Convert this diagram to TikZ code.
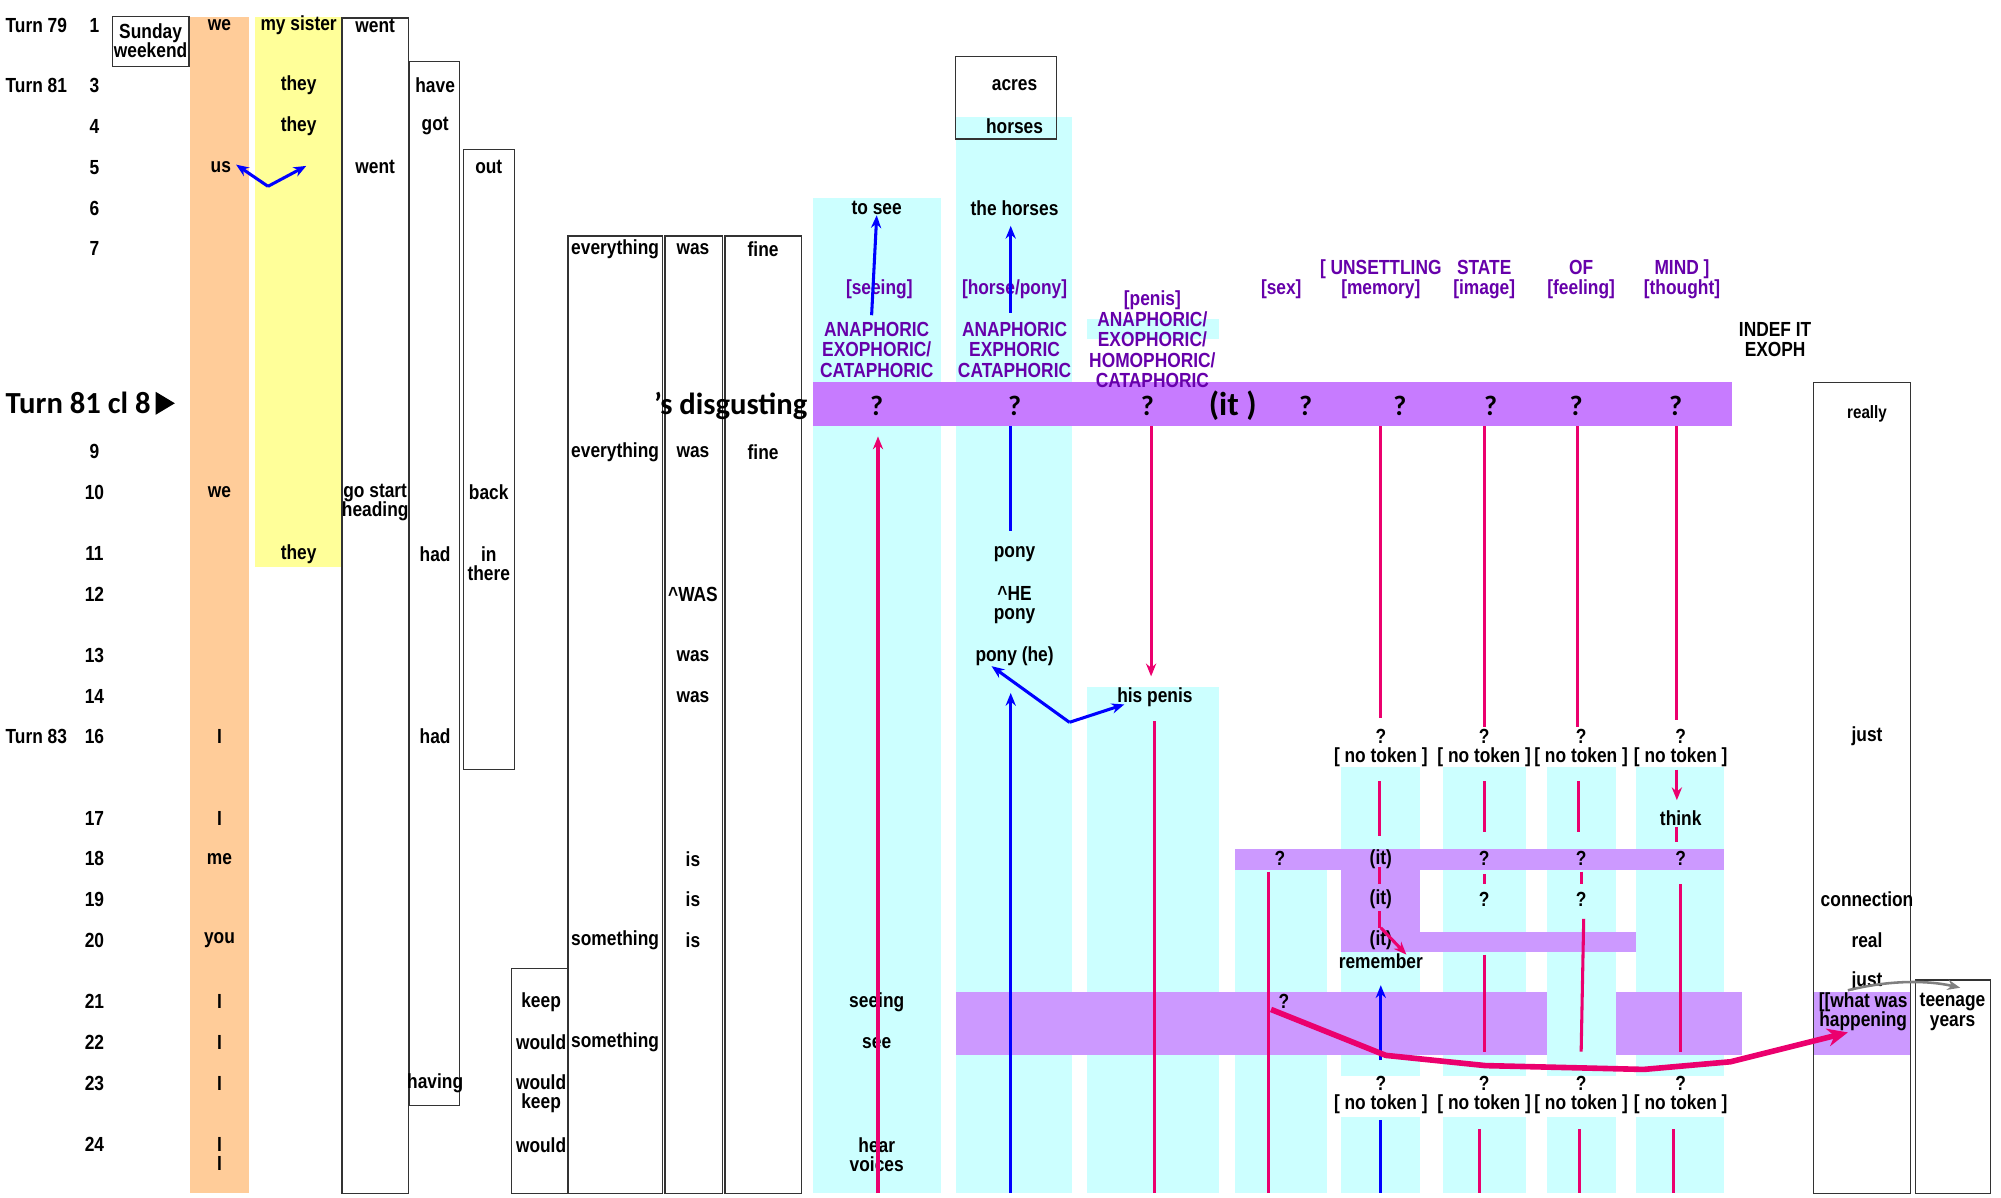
\documentclass[tikz,border=0pt]{standalone}
\usepackage{fontspec}
\setmainfont{Liberation Sans}[FakeStretch=0.85]
\newfontfamily\calib{Carlito}
\usetikzlibrary{arrows.meta}
\definecolor{orng}{HTML}{FFCC99}
\definecolor{yell}{HTML}{FFFF99}
\definecolor{cyn}{HTML}{CCFFFF}
\definecolor{pur}{HTML}{C77BFF}
\definecolor{lpur}{HTML}{CC99FF}
\definecolor{pnk}{RGB}{235,0,110}
\definecolor{hpur}{RGB}{102,0,170}
\definecolor{blu}{HTML}{0000FF}
\begin{document}
\begin{tikzpicture}[x=0.5pt,y=-0.5pt,
  t/.style={font=\fontsize{8}{8.5}\selectfont\bfseries, inner sep=0pt, align=center},
  h/.style={t, text=hpur},
  big/.style={font=\fontsize{11}{12}\selectfont\calib\bfseries, inner sep=0pt},
  box/.style={draw=black!80, line width=0.5pt},
  bl/.style={draw=blu, line width=1.2pt, -{Stealth[length=5pt,width=4pt]}},
  bln/.style={draw=blu, line width=1.2pt},
  pk/.style={draw=pnk, line width=1.2pt},
  pka/.style={pk, -{Stealth[length=5pt,width=4pt]}}]
\useasboundingbox (0,0) rectangle (1568,938);
% ---- colour fills
\fill[orng] (149,13) rectangle (195,935);
\fill[yell] (200,13) rectangle (267,444);
\fill[cyn] (637,155) rectangle (737,935);
\fill[cyn] (749,92) rectangle (840,935);
\fill[cyn] (852,538) rectangle (955,935);
\fill[cyn] (852,250) rectangle (955,266);
\fill[cyn] (968,682) rectangle (1040,935);
\foreach \a/\b in {1051/1113,1131/1196,1212/1266,1282/1351}{
  \fill[cyn] (\a,601) rectangle (\b,843);
  \fill[cyn] (\a,875) rectangle (\b,935);}
\fill[pur] (637,299) rectangle (1357,334);
\fill[lpur] (968,665) rectangle (1351,682);
\fill[lpur] (1051,682) rectangle (1113,746);
\fill[lpur] (1113,730) rectangle (1282,746);
\fill[lpur] (749,777) rectangle (1365,827);
\fill[cyn] (1212,777) rectangle (1266,827);
\fill[lpur] (1421,777) rectangle (1497,827);
% ---- boxes
\draw[box] (88,13) rectangle (148,52);
\draw[box] (268,14) rectangle (320,935);
\draw[box] (321,48) rectangle (360,866);
\draw[box] (363,117) rectangle (403,603);
\draw[box] (401,759) rectangle (445,935);
\draw[box] (445,185) rectangle (519,935);
\draw[box] (521,185) rectangle (566,935);
\draw[box] (568,185) rectangle (628,935);
\draw[box] (749,44) rectangle (828,109);
\draw[box] (1421,300) rectangle (1497,935);
\draw[box] (1501,768) rectangle (1560,935);
% ---- left labels
\node[t,anchor=west] (tu79) at (4,20) {Turn 79};
\node[t,anchor=west] (tu81) at (4,67) {Turn 81};
\node[t,anchor=west] (tu83) at (4,577) {Turn 83};
\foreach \n/\y in {1/20,3/67,4/99,5/131,6/163,7/195,9/354,10/386,11/434,12/466,13/514,14/546,16/577,17/641,18/673,19/705,20/737,21/785,22/817,23/849,24/897}
  \node[t] (r\n) at (74,\y) {\n};
\node[big,anchor=west,font=\fontsize{12}{13}\selectfont\calib\bfseries] (cl8) at (4,316) {Turn 81 cl 8};
\fill (122,307) -- (137,316) -- (122,325) -- cycle;
% ---- column texts
\node[t] (sw) at (118,32) {Sunday\\[-1pt]weekend};
\node[t] (c1a) at (172,20) {we};
\node[t] (c1b) at (173,131) {us};
\node[t] (c1c) at (172,386) {we};
\foreach \y/\w in {577/I,641/I,673/me,737/you,785/I,817/I,849/I,897/I,912/I}
  \node[t] (o\y) at (172,\y) {\w};
\node[t] (y1) at (234,20) {my sister};
\node[t] (y2) at (234,67) {they};
\node[t] (y3) at (234,99) {they};
\node[t] (y4) at (234,434) {they};
\node[t] (w1) at (294,20) {went};
\node[t] (w2) at (294,131) {went};
\node[t] (w3) at (294,394) {go start\\[-1pt]heading};
\node[t] (h1) at (341,67) {have};
\node[t] (h2) at (341,99) {got};
\node[t] (h3) at (341,434) {had};
\node[t] (h4) at (341,577) {had};
\node[t] (h5) at (341,849) {having};
\node[t] (u1) at (383,131) {out};
\node[t] (u2) at (383,386) {back};
\node[t] (u3) at (383,442) {in\\[-1pt]there};
\node[t] (k1) at (424,785) {keep};
\node[t] (k2) at (424,817) {would};
\node[t] (k3) at (424,857) {would\\[-1pt]keep};
\node[t] (k4) at (424,897) {would};
\node[t] (e1) at (482,195) {everything};
\node[t] (e2) at (482,354) {everything};
\node[t] (e3) at (482,737) {something};
\node[t] (e4) at (482,817) {something};
\node[t] (v1) at (543,195) {was};
\node[t] (v2) at (543,354) {was};
\node[t] (v3) at (543,466) {\textasciicircum WAS};
\node[t] (v4) at (543,514) {was};
\node[t] (v5) at (543,546) {was};
\node[t] (v6) at (543,673) {is};
\node[t] (v7) at (543,705) {is};
\node[t] (v8) at (543,737) {is};
\node[t] (f1) at (598,195) {fine};
\node[t] (f2) at (598,354) {fine};
\node[big,anchor=east,font=\fontsize{12}{13}\selectfont\calib\bfseries] (disg) at (633,318) {’s disgusting};
\node[t] (s1) at (687,163) {to see};
\node[t] (s2) at (687,785) {seeing};
\node[t] (s3) at (687,817) {see};
\node[t] (s4) at (687,905) {hear\\[-1pt]voices};
\node[t] (p1) at (795,67) {acres};
\node[t] (p2) at (795,99) {horses};
\node[t] (p3) at (795,163) {the horses};
\node[t] (p4) at (795,434) {pony};
\node[t] (p5) at (795,474) {\textasciicircum HE\\[-1pt]pony};
\node[t] (p6) at (795,514) {pony (he)};
\node[t] (pn) at (905,546) {his penis};
% ---- header labels
\node[h] (hd1) at (689,227) {[seeing]};
\node[h] (hd2) at (687,274) {ANAPHORIC\\[-0.5pt]EXOPHORIC/\\[-0.5pt]CATAPHORIC};
\node[h] (hd3) at (795,227) {[horse/pony]};
\node[h] (hd4) at (795,274) {ANAPHORIC\\[-0.5pt]EXPHORIC\\[-0.5pt]CATAPHORIC};
\node[h] (hd5) at (903,266) {[penis]\\[-0.5pt]ANAPHORIC/\\[-0.5pt]EXOPHORIC/\\[-0.5pt]HOMOPHORIC/\\[-0.5pt]CATAPHORIC};
\node[h] (hd6) at (1004,227) {[sex]};
\node[h] (hd7) at (1082,219) {[ UNSETTLING\\[-0.5pt][memory]};
\node[h] (hd8) at (1163,219) {STATE\\[-0.5pt][image]};
\node[h] (hd9) at (1239,219) {OF\\[-0.5pt][feeling]};
\node[h] (hd10) at (1318,219) {MIND ]\\[-0.5pt][thought]};
\node[t] (ind) at (1391,266) {INDEF IT\\[-0.5pt]EXOPH};
% ---- row 8 question marks
\foreach \x/\q in {687/a,795/b,899/c,1023/d,1097/e,1168/f,1235/g,1313/h}
  \node[big] (q\q) at (\x,318) {?};
\node[big,font=\fontsize{13}{14}\selectfont\calib\bfseries] (itb) at (966,318) {(it )};
% ---- no-token rows
\foreach \x/\n in {1082/a,1163/b,1239/c,1317/d}{
  \node[t] (qu\n) at (\x,577) {?};
  \node[t] (nt\n) at (\x,593) {[ no token ]};
  \node[t] (ql\n) at (\x,849) {?};
  \node[t] (nl\n) at (\x,865) {[ no token ]};}
\node[t] (think) at (1317,641) {think};
\foreach \x/\w/\n in {1003/?/a,1082/(it)/b,1163/?/c,1239/?/d,1317/?/e}
  \node[t] (r18\n) at (\x,673) {\w};
\node[t] (r19a) at (1082,705) {(it)};
\node[t] (r19b) at (1163,705) {?};
\node[t] (r19c) at (1239,705) {?};
\node[t] (r20a) at (1082,737) {(it)};
\node[t] (rem) at (1082,753) {remember};
\node[t] (sq) at (1006,785) {?};
\node[t,font=\fontsize{7}{8}\selectfont\bfseries] (really) at (1463,324) {really};
\node[t] (j1) at (1463,577) {just};
\node[t] (conn) at (1463,705) {connection};
\node[t] (real) at (1463,737) {real};
\node[t] (j2) at (1463,769) {just};
\node[t] (wwh) at (1460,793) {[[what was\\[-1pt]happening};
\node[t] (teen) at (1530,793) {teenage\\[-1pt]years};
% ---- blue arrows
\coordinate (usv) at (210,146);
\draw[bl] (usv) -- (185,129);
\draw[bl] (usv) -- (240,130);
\draw[bl] (683,247) -- (s1.south);
\draw[bl] (792,245) -- (792,177);
\draw[bln] (792,334) -- (792,416);
\draw[bl] (792,935) -- (792,543);
\coordinate (pv) at (838,566);
\draw[bl] (pv) -- (777,522);
\draw[bl] (pv) -- (881,552);
\draw[bl] (1082,831) -- (1082,772);
\draw[bln] (1082,878) -- (1082,935);
% ---- pink lines
\draw[pka] (688,935) -- (688,342);
\draw[pka] (902,334) -- (902,530);
\draw[pk] (905,565) -- (905,935);
\draw[pk] (1082,334) -- (1082,563);
\draw[pk] (1163,334) -- (1163,570);
\draw[pk] (1236,334) -- (1236,570);
\draw[pk] (1314,334) -- (1314,564);
\draw[pk] (1081,612) -- (1081,655);
\draw[pk] (1163,612) -- (1163,652);
\draw[pk] (1237,612) -- (1237,652);
\draw[pka] (1314,603) -- (1314,627);
\draw[pk] (1314,648) -- (1314,660);
\draw[pk] (1081,679) -- (1081,693);
\draw[pk] (1163,685) -- (1163,693);
\draw[pk] (1239,683) -- (1239,693);
\draw[pk] (1317,693) -- (1317,824);
\draw[pk] (1081,714) -- (1081,727);
\draw[pka] (1082,727) -- (1102,748);
\draw[pk] (1163,748) -- (1163,824);
\draw[pk] (1241,720) -- (1239,824);
\draw[pk] (994,683) -- (994,935);
\draw[pk] (1159,885) -- (1159,935);
\draw[pk] (1238,885) -- (1238,935);
\draw[pk] (1311,885) -- (1311,935);
\coordinate (c0) at (996,791);
\draw[pk, line width=2.2pt, -{Stealth[length=8pt,width=7pt]}] (c0) -- (1086,827) -- (1164,835) -- (1288,838) -- (1356,832) -- (1448,809);
% ---- grey arrow
\draw[gray, line width=1pt, -{Stealth[length=5pt,width=4pt]}] (1448,776) .. controls (1480,768) and (1510,768) .. (1536,774);
\end{tikzpicture}
\end{document}
